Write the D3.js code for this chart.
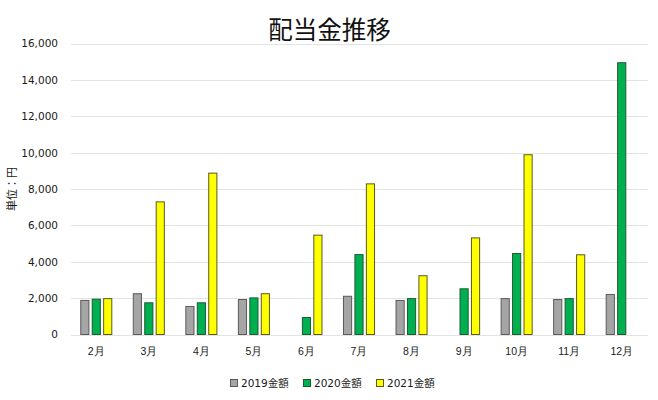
<!DOCTYPE html>
<html><head><meta charset="utf-8">
<script src="https://cdn.jsdelivr.net/npm/d3@7"></script>
<style>
body{margin:0;background:#fff;}
svg{display:block;font-family:"DejaVu Sans","Noto Sans CJK JP",sans-serif;}
</style></head>
<body><div id="chart"></div>
<script>
const categories = ["2月","3月","4月","5月","6月","7月","8月","9月","10月","11月","12月"];
const seriesNames = ["2019金額","2020金額","2021金額"];
const values2019 = [1900,2270,1570,1950,null,2130,1900,null,2000,1950,2230];
const values2020 = [1970,1770,1770,2040,960,4420,2000,2540,4480,2000,14970];
const values2021 = [2000,7320,8900,2270,5490,8310,3260,5340,9910,4410,null];
const yTicks = [0,2000,4000,6000,8000,10000,12000,14000,16000];
const colors = ["#a5a5a5","#00b050","#ffff00"];
const strokes = ["#5a5a5a","#1d5a33","#5a5a20"];

const W=658,H=400;
const m={left:71,right:10,top:43.5,bottom:65.5};
const svg=d3.select("#chart").append("svg").attr("width",W).attr("height",H);
const x=d3.scaleBand().domain(categories).range([m.left-1,W-m.right]).paddingInner(0.39).paddingOuter(0.195);
const y=d3.scaleLinear().domain([0,16000]).range([H-m.bottom,m.top]);
const xs=d3.scaleBand().domain(seriesNames).range([0,x.bandwidth()]).paddingInner(0.2);

// grid
svg.append("g").selectAll("line").data(yTicks).join("line")
 .attr("x1",m.left).attr("x2",W-m.right)
 .attr("y1",d=>Math.round(y(d))+0.5).attr("y2",d=>Math.round(y(d))+0.5)
 .attr("stroke","#e3e3e3").attr("stroke-width",1);

// y axis labels
const yAxis=d3.axisLeft(y).tickValues(yTicks).tickFormat(d3.format(",")).tickSize(0).tickPadding(13);
const ga=svg.append("g").attr("transform",`translate(${m.left},0)`).call(yAxis);
ga.select(".domain").remove();
ga.selectAll("text").attr("font-size",10.5).attr("fill","#1a1a1a").attr("font-family","DejaVu Sans");

// x axis labels
const xAxis=d3.axisBottom(x).tickSize(0).tickPadding(13);
const gx=svg.append("g").attr("transform",`translate(0,${y(0)})`).call(xAxis);
gx.select(".domain").remove();
gx.selectAll("text").attr("font-size",10.5).attr("fill","#1a1a1a");

const all=[values2019,values2020,values2021];
all.forEach((vals,si)=>{
  svg.append("g").selectAll("rect").data(vals.map((v,i)=>({v,c:categories[i]})).filter(d=>d.v!=null))
   .join("rect")
   .attr("x",d=>x(d.c)+xs(seriesNames[si])+0.5)
   .attr("width",xs.bandwidth()-1)
   .attr("y",d=>y(d.v)+0.5)
   .attr("height",d=>y(0)-y(d.v)-0.5)
   .attr("fill",colors[si]).attr("stroke",strokes[si]).attr("stroke-width",1);
});

// title
svg.append("text").attr("x",329.5).attr("y",38.5).attr("text-anchor","middle")
 .attr("font-size",24.5).attr("fill","#111").attr("font-family","Noto Sans CJK JP").text("配当金推移");

// y title
svg.append("text").attr("transform",`translate(16,${(y(0)+y(16000))/2}) rotate(-90)`)
 .attr("text-anchor","middle").attr("font-size",11).attr("fill","#1a1a1a").attr("font-family","Noto Sans CJK JP").text("単位：円");

// legend
const lx=[230,303,376];
const lg=svg.append("g");
seriesNames.forEach((n,i)=>{
  lg.append("rect").attr("x",lx[i]+0.5).attr("y",379.5).attr("width",7).attr("height",7)
    .attr("fill",colors[i]).attr("stroke",strokes[i]);
  lg.append("text").attr("x",lx[i]+11).attr("y",387).attr("font-size",10.5).attr("fill","#1a1a1a").text(n);
});
</script></body></html>
